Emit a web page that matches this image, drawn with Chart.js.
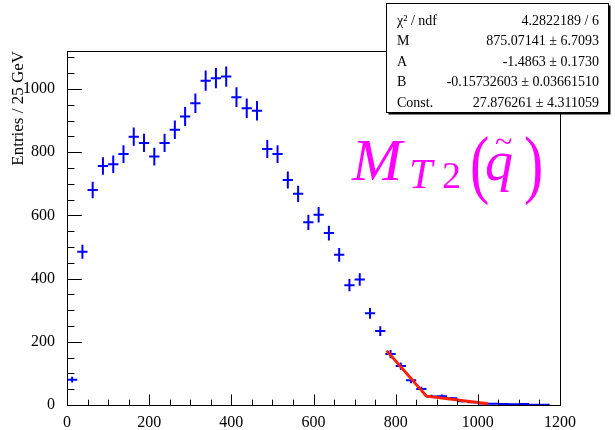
<!DOCTYPE html>
<html>
<head>
<meta charset="utf-8">
<script src="https://cdn.jsdelivr.net/npm/chart.js@4"></script>
<style>
  body { margin: 0; background: #fff; }
</style>
</head>
<body>
<canvas id="mt2Chart" width="615" height="430"></canvas>
<script>
// M_T2 histogram, 25 GeV bins
const binWidth = 25;
const binCenters = [12.5, 37.5, 62.5, 87.5, 112.5, 137.5, 162.5, 187.5, 212.5, 237.5,
    262.5, 287.5, 312.5, 337.5, 362.5, 387.5, 412.5, 437.5, 462.5, 487.5,
    512.5, 537.5, 562.5, 587.5, 612.5, 637.5, 662.5, 687.5, 712.5, 737.5,
    762.5, 787.5, 812.5, 837.5, 862.5, 887.5, 912.5, 937.5, 962.5, 987.5,
    1012.5, 1037.5, 1062.5, 1087.5, 1112.5, 1137.5, 1162.5];
const entries = [80, 485, 680, 756, 762, 794, 849, 829, 786, 829,
    871, 913, 955, 1026, 1034, 1039, 974, 939, 931, 810,
    794, 712, 668, 578, 602, 544, 475, 379, 397, 290,
    234, 161, 123, 78, 51, 27, 28, 21, 12, 9,
    5, 4, 3, 2, 3, 1, 1];
const errors = [9, 22, 26, 27.5, 27.6, 28.2, 29.1, 28.8, 28, 28.8,
    29.5, 30.2, 30.9, 32, 32.2, 32.2, 31.2, 30.6, 30.5, 28.5,
    28.2, 26.7, 25.8, 24, 24.5, 23.3, 21.8, 19.5, 19.9, 17,
    15.3, 12.7, 11.1, 8.8, 7.1, 5.2, 5.3, 4.6, 3.5, 3,
    2.2, 2, 1.7, 1.4, 1.7, 1, 1];

// fitted kink function, vertices
const fitX = [778, 875, 1025];
const fitY = [172, 28, 4];

const statNames = ["\u03c7\u00b2 / ndf", "M", "A", "B", "Const."];
const statValues = ["4.2822189 / 6", "875.07141 \u00b1 6.7093", "-1.4863 \u00b1 0.1730",
    "-0.15732603 \u00b1 0.03661510", "27.876261 \u00b1 4.311059"];

const yTitle = "Entries / 25 GeV";

const serif = "'Liberation Serif', 'Times New Roman', serif";

const hArms = [];
const vArms = [];
binCenters.forEach((c, i) => {
    hArms.push({ x: c - binWidth / 2, y: entries[i] }, { x: c + binWidth / 2, y: entries[i] }, { x: c, y: null });
    vArms.push({ x: c, y: entries[i] - errors[i] }, { x: c, y: entries[i] + errors[i] }, { x: c, y: null });
});
const fitLine = fitX.map((x, i) => ({ x: x, y: fitY[i] }));

// draws a glyph stretched vertically (thin, tall brackets)
function tallGlyph(ctx, ch, x, y, sy) {
    ctx.save();
    ctx.translate(x, y);
    ctx.scale(1, sy);
    ctx.fillText(ch, 0, 0);
    ctx.restore();
}

const rootStyle = {
    id: "rootStyle",
    afterDatasetsDraw(chart) {
        const { ctx, chartArea: a, scales: { x, y } } = chart;
        ctx.save();
        ctx.strokeStyle = "#000";
        ctx.lineWidth = 1;
        ctx.strokeRect(Math.round(a.left) + 0.5, Math.round(a.top) + 0.5,
            Math.round(a.right - a.left), Math.round(a.bottom - a.top));
        ctx.beginPath();
        for (let v = 0; v <= x.max; v += 50) {
            const px = Math.round(x.getPixelForValue(v)) + 0.5;
            const len = v % 200 === 0 ? 10.6 : 5.3;
            ctx.moveTo(px, a.bottom);
            ctx.lineTo(px, a.bottom - len);
        }
        for (let v = 0; v <= y.max; v += 50) {
            const py = Math.round(y.getPixelForValue(v)) + 0.5;
            const len = v % 200 === 0 ? 14.8 : 7.4;
            ctx.moveTo(a.left, py);
            ctx.lineTo(a.left + len, py);
        }
        ctx.stroke();
        ctx.restore();
    },
    afterDraw(chart) {
        const ctx = chart.ctx;
        ctx.save();
        // stats box with shadow
        const bx = 386.5, by = 3.5, bw = 222, bh = 109;
        ctx.fillStyle = "#000";
        ctx.fillRect(bx + 2, by + 2, bw, bh);
        ctx.fillStyle = "#fff";
        ctx.fillRect(bx, by, bw, bh);
        ctx.strokeStyle = "#000";
        ctx.lineWidth = 1;
        ctx.strokeRect(bx, by, bw, bh);
        ctx.fillStyle = "#000";
        ctx.font = "14px " + serif;
        ctx.textBaseline = "alphabetic";
        statNames.forEach((name, i) => {
            const base = 25 + 20.4 * i;
            ctx.textAlign = "left";
            ctx.fillText(name, 397, base);
            ctx.textAlign = "right";
            ctx.fillText(statValues[i], 599, base);
        });

        // M_T2(q~) label
        ctx.fillStyle = "#ff00ff";
        ctx.textAlign = "left";
        ctx.font = "italic 60px " + serif;
        ctx.fillText("M", 352, 180);
        ctx.font = "italic 42px " + serif;
        ctx.fillText("T", 409, 188);
        ctx.font = "38px " + serif;
        ctx.fillText("2", 442, 188);
        ctx.font = "58px " + serif;
        tallGlyph(ctx, "(", 470, 189, 1.3);
        ctx.font = "italic 56px " + serif;
        ctx.fillText("q", 485, 180);
        ctx.font = "32px " + serif;
        ctx.fillText("~", 495, 152);
        ctx.font = "58px " + serif;
        tallGlyph(ctx, ")", 524, 189, 1.3);
        ctx.restore();
    }
};

new Chart(document.getElementById("mt2Chart"), {
    type: "scatter",
    data: {
        datasets: [{
            label: "fit",
            data: fitLine,
            showLine: true,
            borderColor: "rgb(255,30,0)",
            borderWidth: 3,
            pointRadius: 0
        }, {
            label: "x errors",
            data: hArms,
            showLine: true,
            spanGaps: false,
            borderColor: "#0000ff",
            borderWidth: 2,
            pointRadius: 0
        }, {
            label: "y errors",
            data: vArms,
            showLine: true,
            spanGaps: false,
            borderColor: "#0000ff",
            borderWidth: 2,
            pointRadius: 0
        }]
    },
    options: {
        responsive: false,
        animation: false,
        layout: { padding: { left: 0, right: 55, top: 51, bottom: 0 } },
        plugins: {
            legend: { display: false },
            tooltip: { enabled: false }
        },
        scales: {
            x: {
                type: "linear",
                min: 0,
                max: 1200,
                grid: { display: false },
                border: { display: false },
                ticks: {
                    stepSize: 200,
                    includeBounds: false,
                    maxRotation: 0,
                    padding: 0,
                    color: "#000",
                    font: { family: serif, size: 16 },
                    callback: v => String(v)
                },
                afterFit: s => { s.height = 25; }
            },
            y: {
                type: "linear",
                min: 0,
                max: 1120,
                grid: { display: false },
                border: { display: false },
                ticks: {
                    stepSize: 200,
                    includeBounds: false,
                    padding: 4,
                    color: "#000",
                    font: { family: serif, size: 16 },
                    callback: v => String(v)
                },
                title: {
                    display: true,
                    text: yTitle,
                    align: "end",
                    color: "#000",
                    padding: { top: 8, bottom: 0 },
                    font: { family: serif, size: 17 }
                },
                afterFit: s => { s.width = 67; }
            }
        }
    },
    plugins: [rootStyle]
});
</script>
</body>
</html>
